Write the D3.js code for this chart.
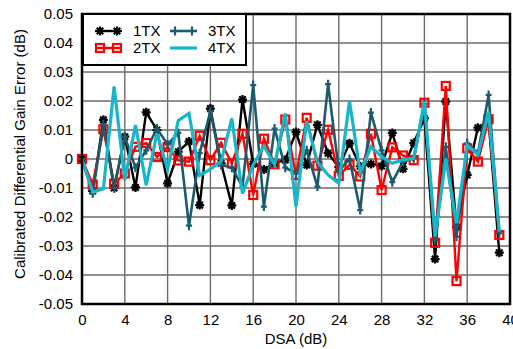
<!DOCTYPE html>
<html><head><meta charset="utf-8">
<script src="https://cdn.jsdelivr.net/npm/d3@7"></script>
<style>
html,body{margin:0;padding:0;background:#fff;}
svg{display:block;font-family:"Liberation Sans",Arial,sans-serif;}
</style></head>
<body><svg id="c" width="513" height="349"></svg>
<script>
const dsa = d3.range(0, 40);
const tx1 = [0,-0.011,0.0135,-0.010,0.0077,-0.0098,0.0161,0.010,-0.0084,0.0025,0.006,-0.0159,0.0174,-0.0015,-0.016,0.0205,-0.0017,-0.0036,-0.0015,-0.0003,0.0093,-0.0021,0.0118,0.002,-0.0028,0.0054,-0.0025,-0.0017,-0.0024,0.009,-0.0034,0.0055,0.014,-0.0345,0.0198,-0.0235,-0.0055,0.0108,0.013,-0.0323];
const tx2 = [0,-0.0088,0.0102,-0.0085,-0.005,0.0042,0.0055,0.0007,0.0041,-0.0005,-0.0009,0.008,-0.0004,0.0056,-0.0015,0.0087,-0.0124,0.007,-0.0018,0.0136,-0.0055,0.0142,-0.0023,0.0101,-0.0058,-0.002,-0.006,0.0087,-0.0107,0.004,0.0012,-0.0004,0.0194,-0.0289,0.0252,-0.0421,0.0037,-0.0009,0.0137,-0.0262];
const tx3 = [0,-0.0118,0.012,-0.010,0.0077,-0.003,0.003,0.0105,0.005,0.009,-0.023,0.002,0.0165,-0.002,-0.003,-0.0095,0.0255,-0.0164,0.0105,-0.003,-0.005,0.003,-0.0095,0.0258,-0.004,0.0,-0.0176,0.016,0.003,-0.008,-0.001,0.0003,0.019,-0.028,0.0042,-0.0268,0.0054,0.002,0.0221,-0.0256];
const tx4 = [0,-0.0115,-0.0103,0.025,-0.0072,0.0117,-0.009,0.0088,-0.0035,0.0133,0.0157,-0.0057,-0.0035,-0.0009,0.014,-0.012,-0.002,0.0045,-0.002,0.0157,-0.0164,0.013,-0.001,-0.0055,-0.0084,0.02,-0.0047,0.0042,0.0008,-0.0015,-0.0003,0.0002,0.0198,-0.0268,0.0002,-0.0222,0.0048,0.0014,0.0163,-0.025];
const seriesNames = ["1TX","2TX","3TX","4TX"];
const xTicks = d3.range(0, 41, 4);
const yTicks = [-0.05,-0.04,-0.03,-0.02,-0.01,0,0.01,0.02,0.03,0.04,0.05];
const yTickLabels = ["-0.05","-0.04","-0.03","-0.02","-0.01","0","0.01","0.02","0.03","0.04","0.05"];

const L = 82, R = 510, T = 14, B = 304;
const svg = d3.select("#c");
const x = d3.scaleLinear().domain([0, 40]).range([L, R]);
const y = d3.scaleLinear().domain([-0.05, 0.05]).range([B, T]);

// grid
const grid = svg.append("g").attr("stroke", "#6b6b6b").attr("stroke-width", 1.4);
xTicks.forEach(t => grid.append("line").attr("x1", x(t)).attr("x2", x(t)).attr("y1", T).attr("y2", B));
yTicks.forEach(t => grid.append("line").attr("x1", L).attr("x2", R).attr("y1", y(t)).attr("y2", y(t)));

// axes (labels)
const xAxis = d3.axisBottom(x).tickValues(xTicks).tickSize(0).tickPadding(10).tickFormat(d3.format("d"));
const gx = svg.append("g").attr("transform", `translate(0,${B})`).call(xAxis);
gx.select(".domain").remove();
gx.selectAll("text").attr("font-size", 15).attr("fill", "#000").attr("font-family", "Liberation Sans, Arial, sans-serif");
const yAxis = d3.axisLeft(y).tickValues(yTicks).tickSize(0).tickPadding(9).tickFormat((d, i) => yTickLabels[i]);
const gy = svg.append("g").attr("transform", `translate(${L},0)`).call(yAxis);
gy.select(".domain").remove();
gy.selectAll("text").attr("font-size", 15).attr("fill", "#000").attr("font-family", "Liberation Sans, Arial, sans-serif");

svg.append("text").attr("x", x(20)).attr("y", 344).attr("text-anchor", "middle")
  .attr("font-size", 15).text("DSA (dB)");
svg.append("text").attr("transform", `translate(25,154) rotate(-90)`).attr("text-anchor", "middle")
  .attr("font-size", 15).text("Calibrated Differential Gain Error (dB)");

// markers
function asterisk(g, cx, cy, col) {
  const r = 4.5, d = r * 0.72;
  g.append("path").attr("d", `M${cx-r},${cy}L${cx+r},${cy}M${cx},${cy-r}L${cx},${cy+r}M${cx-d},${cy-d}L${cx+d},${cy+d}M${cx-d},${cy+d}L${cx+d},${cy-d}`)
    .attr("stroke", col).attr("stroke-width", 2.2).attr("fill", "none");
  g.append("circle").attr("cx", cx).attr("cy", cy).attr("r", 2.6).attr("fill", col);
}
function square(g, cx, cy, col) {
  g.append("rect").attr("x", cx - 4).attr("y", cy - 4).attr("width", 8).attr("height", 8)
    .attr("fill", "none").attr("stroke", col).attr("stroke-width", 2.2);
}
function plus(g, cx, cy, col) {
  g.append("path").attr("d", `M${cx},${cy-4.5}L${cx},${cy+4.5}M${cx-3},${cy}L${cx+3},${cy}`)
    .attr("stroke", col).attr("stroke-width", 2.2).attr("fill", "none");
}
const series = [
  {name: seriesNames[0], vals: tx1, color: "#000000", w: 2.4, marker: asterisk},
  {name: seriesNames[1], vals: tx2, color: "#ff0000", w: 2.4, marker: square},
  {name: seriesNames[2], vals: tx3, color: "#1d5a6d", w: 2.6, marker: plus},
  {name: seriesNames[3], vals: tx4, color: "#17b6c9", w: 3.2, marker: null}
];
const line = d3.line().x(d => x(d[0])).y(d => y(d[1]));
const plot = svg.append("g");
series.forEach(s => {
  const pts = dsa.map((d, i) => [d, s.vals[i]]);
  const g = plot.append("g");
  g.append("path").attr("d", line(pts)).attr("fill", "none").attr("stroke", s.color)
    .attr("stroke-width", s.w).attr("stroke-linejoin", "miter");
  if (s.marker) pts.forEach(p => s.marker(g, x(p[0]), y(p[1]), s.color));
});

// frame
svg.append("rect").attr("x", L).attr("y", T).attr("width", R - L).attr("height", B - T)
  .attr("fill", "none").attr("stroke", "#000").attr("stroke-width", 2.5);

// legend
const lg = svg.append("g");
lg.append("rect").attr("x", 83).attr("y", 14).attr("width", 163).attr("height", 51)
  .attr("fill", "#fff").attr("stroke", "#000").attr("stroke-width", 2);
const pos = [[95, 31], [95, 48], [170, 31], [170, 48]];
series.forEach((s, i) => {
  const [lx, ly] = pos[i];
  lg.append("line").attr("x1", lx).attr("x2", lx + 27).attr("y1", ly).attr("y2", ly)
    .attr("stroke", s.color).attr("stroke-width", s.w);
  if (s.marker) { s.marker(lg, lx + 5, ly, s.color); s.marker(lg, lx + 22, ly, s.color); }
  lg.append("text").attr("x", lx + 38).attr("y", ly).attr("dy", "0.35em").attr("font-size", 15).text(s.name);
});
</script></body></html>
